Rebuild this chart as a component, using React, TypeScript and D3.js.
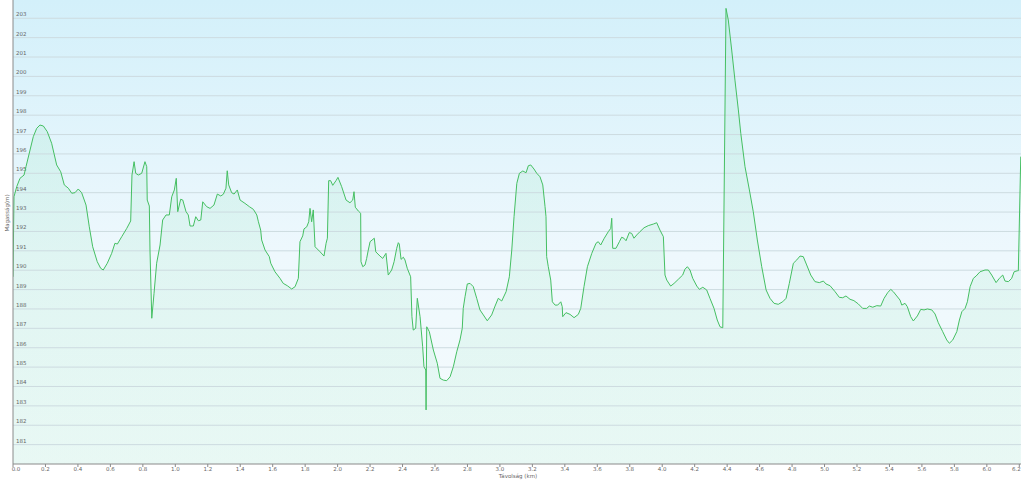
import React from "react";
import * as d3 from "d3";

const distanceKm: number[] = [
  0.0, 0.006, 0.023, 0.043, 0.068, 0.08, 0.105, 0.125, 0.146, 0.166, 0.187, 0.211, 0.238, 0.269, 0.294, 0.316, 0.341, 0.362, 0.382, 0.402,
  0.423, 0.45, 0.47, 0.491, 0.519, 0.54, 0.556, 0.581, 0.608, 0.628, 0.643, 0.67, 0.701, 0.725, 0.733, 0.746, 0.756, 0.772, 0.793, 0.813,
  0.824, 0.827, 0.84, 0.844, 0.855, 0.869, 0.885, 0.906, 0.922, 0.943, 0.963, 0.978, 0.994, 1.006, 1.015, 1.033, 1.046, 1.066, 1.08, 1.091,
  1.111, 1.126, 1.142, 1.157, 1.169, 1.193, 1.214, 1.238, 1.259, 1.28, 1.296, 1.312, 1.32, 1.329, 1.347, 1.362, 1.382, 1.399, 1.429, 1.456,
  1.481, 1.502, 1.512, 1.526, 1.532, 1.553, 1.579, 1.588, 1.614, 1.645, 1.665, 1.69, 1.717, 1.738, 1.758, 1.768, 1.785, 1.793, 1.81, 1.822,
  1.83, 1.84, 1.85, 1.861, 1.892, 1.916, 1.929, 1.937, 1.945, 1.957, 1.97, 1.99, 2.002, 2.025, 2.052, 2.076, 2.093, 2.101, 2.109, 2.128,
  2.142, 2.144, 2.155, 2.169, 2.179, 2.189, 2.2, 2.226, 2.235, 2.261, 2.278, 2.298, 2.312, 2.333, 2.348, 2.364, 2.374, 2.38, 2.391, 2.405,
  2.415, 2.429, 2.45, 2.458, 2.466, 2.481, 2.491, 2.508, 2.524, 2.532, 2.543, 2.545, 2.549, 2.565, 2.59, 2.614, 2.631, 2.651, 2.672, 2.693,
  2.713, 2.734, 2.754, 2.768, 2.774, 2.785, 2.799, 2.816, 2.836, 2.857, 2.877, 2.898, 2.922, 2.949, 2.97, 2.99, 3.011, 3.038, 3.058, 3.073,
  3.087, 3.104, 3.12, 3.141, 3.161, 3.175, 3.19, 3.21, 3.227, 3.247, 3.264, 3.278, 3.284, 3.288, 3.298, 3.313, 3.323, 3.34, 3.356, 3.375,
  3.384, 3.387, 3.407, 3.432, 3.457, 3.483, 3.498, 3.518, 3.539, 3.566, 3.592, 3.606, 3.621, 3.643, 3.668, 3.683, 3.689, 3.695, 3.715, 3.736,
  3.75, 3.764, 3.777, 3.797, 3.812, 3.826, 3.843, 3.863, 3.888, 3.914, 3.945, 3.966, 3.986, 4.007, 4.017, 4.028, 4.052, 4.073, 4.099, 4.126,
  4.14, 4.155, 4.171, 4.188, 4.213, 4.229, 4.25, 4.274, 4.294, 4.319, 4.339, 4.356, 4.373, 4.393, 4.407, 4.428, 4.448, 4.469, 4.484, 4.51,
  4.537, 4.561, 4.586, 4.613, 4.64, 4.664, 4.689, 4.715, 4.742, 4.763, 4.783, 4.808, 4.829, 4.849, 4.869, 4.89, 4.915, 4.941, 4.968, 4.993,
  5.009, 5.034, 5.065, 5.091, 5.112, 5.132, 5.157, 5.181, 5.208, 5.235, 5.26, 5.276, 5.297, 5.322, 5.346, 5.367, 5.389, 5.408, 5.424, 5.445,
  5.465, 5.476, 5.496, 5.51, 5.531, 5.547, 5.572, 5.593, 5.613, 5.634, 5.661, 5.681, 5.701, 5.728, 5.753, 5.769, 5.79, 5.815, 5.831, 5.846,
  5.866, 5.88, 5.897, 5.917, 5.934, 5.958, 5.989, 6.009, 6.03, 6.057, 6.077, 6.098, 6.112, 6.133, 6.153, 6.168, 6.188, 6.194, 6.209,
];

const elevationM: number[] = [
  189.66, 193.79, 194.31, 194.74, 194.91, 195.34, 196.2, 196.89, 197.32, 197.49, 197.44, 197.15, 196.55, 195.43, 195.08, 194.4, 194.23, 193.97, 194.0, 194.19,
  194.0, 193.36, 192.24, 191.21, 190.44, 190.1, 190.01, 190.36, 190.87, 191.39, 191.35, 191.73, 192.16, 192.54, 194.91, 195.6, 195.0, 194.91, 195.0, 195.6,
  195.34, 193.62, 193.31, 191.04, 187.52, 188.81, 190.36, 191.3, 192.59, 192.85, 192.85, 193.79, 194.14, 194.74, 193.02, 193.66, 193.62, 193.02, 192.85, 192.28,
  192.28, 192.76, 192.55, 192.59, 193.53, 193.28, 193.19, 193.36, 193.93, 193.83, 193.92, 194.23, 195.13, 194.4, 194.0, 193.93, 194.14, 193.62, 193.45, 193.28,
  193.14, 192.85, 192.5, 192.07, 191.56, 191.04, 190.7, 190.36, 189.92, 189.58, 189.32, 189.2, 189.03, 189.15, 189.58, 191.47, 191.77, 192.13, 192.24, 192.5,
  193.19, 192.5, 193.11, 191.21, 190.95, 190.73, 191.39, 191.65, 194.62, 194.62, 194.38, 194.62, 194.79, 194.31, 193.62, 193.48, 193.62, 194.05, 193.25, 193.05,
  192.94, 190.44, 190.18, 190.27, 190.61, 191.04, 191.47, 191.65, 190.95, 190.73, 190.61, 190.87, 189.75, 190.01, 190.44, 191.13, 191.42, 191.35, 190.56, 190.67,
  190.53, 190.1, 189.66, 187.6, 186.91, 187.0, 188.55, 187.6, 186.05, 185.02, 184.85, 182.79, 187.08, 186.83, 185.88, 185.2, 184.42, 184.33, 184.3, 184.5,
  185.02, 185.79, 186.4, 187.0, 188.03, 188.63, 189.29, 189.32, 189.15, 188.55, 187.95, 187.69, 187.39, 187.69, 188.15, 188.55, 188.41, 188.89, 189.66, 191.04,
  192.76, 194.48, 195.0, 195.12, 195.03, 195.39, 195.43, 195.22, 195.0, 194.82, 194.4, 193.28, 192.76, 190.7, 190.18, 189.49, 188.37, 188.2, 188.2, 188.37,
  188.12, 187.6, 187.81, 187.72, 187.55, 187.72, 188.03, 189.15, 190.18, 190.87, 191.39, 191.47, 191.3, 191.65, 191.99, 192.16, 192.68, 191.13, 191.13, 191.47,
  191.7, 191.65, 191.52, 191.94, 191.9, 191.65, 191.82, 191.99, 192.19, 192.3, 192.38, 192.45, 192.07, 191.73, 189.75, 189.49, 189.18, 189.32, 189.53, 189.75,
  190.05, 190.18, 190.01, 189.58, 189.18, 189.01, 189.12, 188.98, 188.55, 188.03, 187.43, 187.08, 187.03, 203.51, 202.91, 201.36, 199.81, 198.27, 197.06, 195.34,
  194.14, 193.02, 191.56, 190.18, 188.98, 188.55, 188.29, 188.24, 188.37, 188.55, 189.32, 190.36, 190.53, 190.73, 190.7, 190.27, 189.75, 189.41, 189.36, 189.44,
  189.29, 189.2, 188.89, 188.6, 188.58, 188.67, 188.5, 188.43, 188.26, 188.03, 188.03, 188.15, 188.09, 188.17, 188.15, 188.55, 188.84, 189.01, 188.89, 188.67,
  188.46, 188.2, 188.29, 188.12, 187.6, 187.38, 187.64, 187.98, 187.95, 188.0, 187.95, 187.74, 187.29, 186.83, 186.4, 186.23, 186.4, 186.83, 187.43, 187.86,
  188.03, 188.37, 189.15, 189.58, 189.7, 189.92, 190.01, 190.01, 189.75, 189.36, 189.58, 189.75, 189.44, 189.41, 189.58, 189.92, 189.97, 189.97, 195.86,
];

const xTickValues: number[] = [0, 0.2, 0.4, 0.6, 0.8, 1.0, 1.2, 1.4, 1.6, 1.8, 2.0, 2.2, 2.4, 2.6, 2.8, 3.0, 3.2, 3.4, 3.6, 3.8, 4.0, 4.2, 4.4, 4.6, 4.8, 5.0, 5.2, 5.4, 5.6, 5.8, 6.0, 6.2];
const yTickValues: number[] = [181, 182, 183, 184, 185, 186, 187, 188, 189, 190, 191, 192, 193, 194, 195, 196, 197, 198, 199, 200, 201, 202, 203];

const xTitle = "Távolság  (km)";
const yTitle = "Magasság(m)";

export default function App() {
  const W = 1022;
  const H = 480;
  const left = 13;
  const right = 1021;
  const top = 0;
  const bottom = 464;

  const x = d3.scaleLinear().domain([0, 6.2]).range([left, 1019.3]);
  const y = d3.scaleLinear().domain([180, 204]).range([bottom, bottom - 24 * 19.38]);

  const data = distanceKm.map((d, i) => ({ d, e: elevationM[i] }));
  const line = d3.line<{ d: number; e: number }>().x((p) => x(p.d)).y((p) => y(p.e));
  const area = d3
    .area<{ d: number; e: number }>()
    .x((p) => x(p.d))
    .y0(bottom)
    .y1((p) => y(p.e));

  const font = "Verdana, 'DejaVu Sans', sans-serif";
  const last = xTickValues.length - 1;

  return (
    <svg
      width={W}
      height={H}
      style={{ position: "absolute", left: 0, top: 0, display: "block", background: "#fff" }}
    >
      <defs>
        <linearGradient id="bg" x1="0" y1="0" x2="0" y2="1">
          <stop offset="0%" stopColor="#d3f0fa" />
          <stop offset="55%" stopColor="#eef8fd" />
          <stop offset="100%" stopColor="#f5fbfd" />
        </linearGradient>
        <linearGradient id="fillg" x1="0" y1="0" x2="0" y2="1">
          <stop offset="0%" stopColor="#40d47c" stopOpacity={0.1} />
          <stop offset="100%" stopColor="#40d47c" stopOpacity={0.07} />
        </linearGradient>
        <clipPath id="plotclip">
          <rect x={left} y={top} width={right - left} height={bottom - top} />
        </clipPath>
      </defs>
      <rect x={0} y={0} width={W} height={H} fill="#fff" />
      <rect x={left} y={top} width={right - left} height={bottom - top} fill="url(#bg)" />
      <g clipPath="url(#plotclip)">
        <path d={area(data) || ""} fill="url(#fillg)" />
      </g>
      {yTickValues.map((v) => (
        <g key={v}>
          <line x1={left} x2={right} y1={y(v)} y2={y(v)} stroke="#cddbe0" strokeWidth={1} />
          <text x={left + 3} y={y(v) - 2} fontSize={5.5} fill="#666" fontFamily={font}>
            {v}
          </text>
        </g>
      ))}
      <g clipPath="url(#plotclip)">
        <path d={line(data) || ""} fill="none" stroke="#45bf62" strokeWidth={1} strokeLinejoin="round" />
      </g>
      <line x1={left} x2={left} y1={top} y2={bottom} stroke="#8a8a8a" strokeWidth={1} />
      <line x1={left} x2={right} y1={bottom} y2={bottom} stroke="#8a8a8a" strokeWidth={1} />
      {xTickValues.map((v, i) => (
        <g key={v}>
          <line x1={x(v)} x2={x(v)} y1={bottom} y2={bottom + 3} stroke="#8a8a8a" strokeWidth={1} />
          <text
            x={i === 0 ? x(v) + 3 : i === last ? x(v) - 3 : x(v)}
            y={bottom + 7}
            fontSize={5.5}
            fill="#666"
            textAnchor="middle"
            fontFamily={font}
          >
            {v.toFixed(1)}
          </text>
        </g>
      ))}
      <text x={518} y={478} fontSize={5.5} fill="#666" textAnchor="middle" fontFamily={font}>
        {xTitle}
      </text>
      <text
        transform={`translate(9, 213) rotate(-90)`}
        fontSize={5.5}
        fill="#666"
        textAnchor="middle"
        fontFamily={font}
      >
        {yTitle}
      </text>
    </svg>
  );
}
